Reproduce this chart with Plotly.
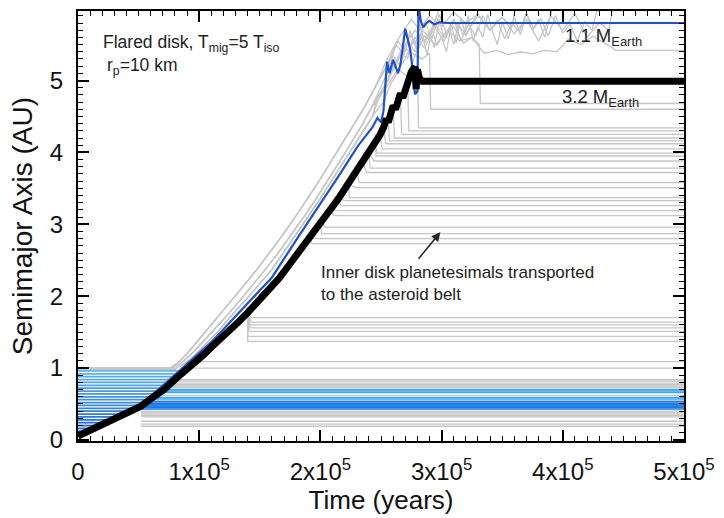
import plotly.graph_objects as go

T = 1e5  # time values below are in units of 1e5 years

# ---- planet tracks ----
black_t = [0, 0.16, 0.33, 0.52, 0.60, 0.71, 0.82, 0.93, 1.04, 1.10, 1.17, 1.25, 1.33, 1.40, 1.45,
           1.50, 1.58, 1.66, 1.74, 1.82, 1.91, 2.00, 2.08, 2.15, 2.23, 2.30, 2.35, 2.40, 2.45, 2.49,
           2.52, 2.545, 2.56, 2.60, 2.62, 2.66, 2.68, 2.72, 2.75, 2.78, 2.79, 2.80, 2.82, 2.84, 5.0]
black_a = [0.055, 0.19, 0.32, 0.47, 0.57, 0.70, 0.87, 1.02, 1.19, 1.29, 1.39, 1.52, 1.65, 1.77, 1.86,
           1.95, 2.10, 2.25, 2.43, 2.62, 2.82, 3.02, 3.20, 3.36, 3.56, 3.74, 3.87, 4.00, 4.13, 4.24,
           4.34, 4.47, 4.42, 4.65, 4.60, 4.82, 4.76, 4.96, 5.12, 5.19, 4.88, 5.15, 5.02, 4.99, 4.99]

blue_t = [0, 0.30, 0.52, 0.71, 0.93, 1.10, 1.25, 1.40, 1.60, 1.80, 2.00, 2.15, 2.31, 2.43, 2.47,
          2.50, 2.52, 2.55, 2.57, 2.60, 2.64, 2.66, 2.70, 2.74, 2.76, 2.78, 2.80, 2.81, 2.83, 2.85,
          2.87, 2.90, 2.94, 2.98, 3.05, 5.0]
blue_a = [0.07, 0.32, 0.50, 0.77, 1.10, 1.36, 1.63, 1.90, 2.26, 2.78, 3.28, 3.67, 4.09, 4.35, 4.48,
          4.42, 4.57, 5.26, 5.10, 5.29, 5.10, 5.22, 5.72, 5.44, 5.17, 4.81, 4.85, 6.05, 5.81, 5.74,
          5.79, 5.83, 5.78, 5.81, 5.80, 5.80]

# ---- shepherded grey band tracks ----
greyA_t = [0, 0.78, 0.86, 0.95, 1.05, 1.15, 1.25, 1.35, 1.45, 1.55, 1.65, 1.75, 1.85, 1.95, 2.05,
           2.15, 2.25, 2.35, 2.42]
greyA_a = [1.00, 1.00, 1.08, 1.22, 1.40, 1.58, 1.77, 1.97, 2.17, 2.38, 2.60, 2.83, 3.07, 3.32, 3.58,
           3.85, 4.12, 4.40, 4.62]
greyB_t = [0, 0.80, 0.93, 1.05, 1.15, 1.25, 1.40, 1.60, 1.80, 2.00, 2.15, 2.31, 2.43]
greyB_a = [0.985, 0.985, 1.12, 1.32, 1.50, 1.70, 1.98, 2.37, 2.86, 3.36, 3.76, 4.19, 4.50]
greyC_t = [0, 0.76, 0.83, 0.91, 1.00, 1.09, 1.18, 1.28, 1.38, 1.48, 1.58, 1.68, 1.78, 1.88, 1.98,
           2.08, 2.18, 2.28, 2.36]
greyC_a = [1.00, 1.00, 1.08, 1.22, 1.40, 1.58, 1.77, 1.97, 2.17, 2.38, 2.60, 2.83, 3.07, 3.32, 3.58,
           3.85, 4.12, 4.40, 4.62]

# chaotic outer continuations: (track used, times, semimajor axes)
chaos_track = ["A", "A", "B", "B", "C", "B", "C", "A", "C"]
chaos_t = [
    [2.48, 2.55, 2.60, 2.66, 2.72, 2.78, 2.84, 2.90, 2.95, 3.00],
    [2.48, 2.56, 2.62, 2.70, 2.78, 2.86, 2.95, 3.05, 3.15, 3.25, 3.35, 3.45, 3.55, 3.65, 3.75, 3.85,
     3.95, 4.05, 4.15, 4.25, 4.35, 4.44, 5.0],
    [2.45, 2.52, 2.58, 2.65, 2.72, 2.78, 2.84, 2.90, 2.91, 5.0],
    [2.48, 2.55, 2.62, 2.70, 2.78, 2.86, 2.94, 3.02, 3.10, 3.18, 3.25, 3.31, 3.32, 5.0],
    [2.45, 2.55, 2.65, 2.75, 2.82, 2.90, 3.00, 3.10, 3.20, 3.30, 3.40, 3.50, 3.60, 3.70, 3.80, 3.90,
     4.00, 4.10, 4.20, 4.30, 4.38, 4.42],
    [2.46, 2.54, 2.62, 2.70, 2.78, 2.86, 2.94, 3.02, 3.10, 3.20, 3.30, 3.40, 3.50, 3.58, 3.62],
    [2.42, 2.50, 2.58, 2.64, 2.70, 2.74, 2.78, 2.82, 2.86, 2.90, 2.94, 2.98, 3.02, 3.06, 3.10, 3.14,
     3.18, 3.22, 3.26, 3.30, 3.34, 3.38, 3.42, 3.46, 3.50, 3.55, 3.60, 3.65, 3.70, 3.75, 3.80, 3.85,
     3.90, 3.93],
    [2.46, 2.54, 2.60, 2.66, 2.72, 2.76, 2.80, 2.84, 2.88, 2.92, 2.96, 3.00, 3.04, 3.08, 3.12, 3.16,
     3.20, 3.25, 3.30, 3.35],
    [2.40, 2.48, 2.56, 2.62, 2.68, 2.74, 2.80, 2.86, 2.92, 2.98, 3.04, 3.10, 3.16, 3.22, 3.28, 3.34,
     3.40, 3.46, 3.52, 3.58, 3.64, 3.70, 3.76, 3.82, 3.88, 3.94, 4.00, 4.06, 4.12, 4.18, 4.24, 4.30],
]
chaos_a = [
    [4.85, 5.10, 5.35, 5.20, 5.55, 5.40, 5.70, 5.60, 5.85, 6.10],
    [4.80, 5.00, 5.25, 5.45, 5.35, 5.62, 5.50, 5.70, 5.55, 5.60, 5.38, 5.42, 5.36, 5.40, 5.37, 5.42,
     5.40, 5.58, 5.50, 5.62, 5.52, 5.42, 5.42],
    [4.55, 4.70, 4.95, 5.15, 5.05, 5.35, 5.30, 5.38, 4.60, 4.60],
    [4.75, 5.00, 5.20, 5.50, 5.70, 5.55, 5.80, 5.60, 5.75, 5.52, 5.60, 5.50, 4.68, 4.68],
    [4.90, 5.30, 5.60, 5.85, 5.70, 5.90, 5.75, 5.95, 5.80, 5.92, 5.70, 5.88, 5.65, 5.85, 5.55, 5.90,
     5.70, 5.93, 5.60, 5.80, 5.70, 6.10],
    [4.70, 4.90, 5.10, 5.30, 5.60, 5.45, 5.75, 5.55, 5.82, 5.65, 5.90, 5.70, 5.88, 5.75, 6.10],
    [4.80, 5.05, 5.30, 5.55, 5.40, 5.70, 5.48, 5.78, 5.52, 5.66, 5.45, 5.85, 5.60, 5.72, 5.50, 5.80,
     5.62, 5.90, 5.55, 5.75, 5.60, 5.92, 5.68, 5.50, 5.82, 5.58, 5.88, 5.64, 5.93, 5.70, 5.85, 5.60,
     5.90, 6.10],
    [4.70, 4.95, 5.20, 5.40, 5.30, 5.58, 5.42, 5.66, 5.35, 5.72, 5.48, 5.60, 5.40, 5.78, 5.52, 5.88,
     5.62, 5.80, 5.95, 6.10],
    [4.75, 5.00, 5.25, 5.50, 5.38, 5.64, 5.50, 5.82, 5.58, 5.92, 5.66, 5.86, 5.55, 5.78, 5.62, 5.90,
     5.70, 5.84, 5.58, 5.80, 5.68, 5.94, 5.72, 5.86, 5.62, 5.90, 5.66, 5.78, 5.55, 5.82, 5.70, 6.10],
]

# planetesimals scattered off the migrating planet: release time, final semimajor axis
scat_t = [1.02, 1.40, 1.40, 1.41, 1.42, 1.42, 1.43, 1.43,
          1.93, 1.97, 2.01, 2.04, 2.11, 2.14, 2.17, 2.21, 2.24, 2.29, 2.32, 2.38, 2.41,
          2.44, 2.46, 2.47, 2.51, 2.54, 2.57, 2.61, 2.67, 2.73, 2.81]
scat_a = [1.09, 1.37, 1.44, 1.51, 1.56, 1.60, 1.64, 1.70,
          2.73, 2.80, 2.87, 2.96, 3.12, 3.19, 3.26, 3.33, 3.37, 3.51, 3.58, 3.72, 3.78,
          3.88, 3.95, 3.99, 4.05, 4.12, 4.16, 4.20, 4.25, 4.30, 4.34]

# inner disk fan (initial a, time the planet sweeps it)
fan_a = [0.08, 0.12, 0.16, 0.20, 0.24, 0.28, 0.32, 0.36, 0.40, 0.44, 0.48, 0.52, 0.56, 0.60,
         0.64, 0.68, 0.72, 0.76, 0.80, 0.84, 0.88, 0.92, 0.96]
fan_t = [0.03, 0.077, 0.124, 0.173, 0.225, 0.277, 0.33, 0.38, 0.43, 0.48, 0.53, 0.56, 0.59, 0.62,
         0.655, 0.69, 0.72, 0.75, 0.775, 0.80, 0.827, 0.857, 0.886]

# inner survivors (a, start time)
low_grey_a = [0.19, 0.22, 0.26, 0.32, 0.34, 0.36, 0.38, 0.40, 0.55, 0.62, 0.73, 0.75, 0.77, 0.79,
              0.82, 0.84, 1.00]
low_grey_t = [0.52, 0.52, 0.52, 0.52, 0.52, 0.52, 0.52, 0.52, 0.58, 0.64, 0.73, 0.745, 0.76, 0.775,
              0.79, 0.80, 0.92]
low_lblue_a = [0.57, 0.59, 0.66, 0.68, 0.70]
low_lblue_t = [0.60, 0.62, 0.67, 0.69, 0.71]
low_blue_a = [0.43, 0.45, 0.47, 0.49, 0.51, 0.53]
low_blue_t = [0.52, 0.52, 0.52, 0.53, 0.55, 0.57]

T_END = 5.0
x_ticks = [0, 1, 2, 3, 4, 5]
x_ticktext = ["0", "1x10<sup>5</sup>", "2x10<sup>5</sup>", "3x10<sup>5</sup>", "4x10<sup>5</sup>", "5x10<sup>5</sup>"]
y_ticks = [0, 1, 2, 3, 4, 5]

GREY = "#c6c6c6"


def join(lines):
    xs, ys = [], []
    for lx, ly in lines:
        xs += [v * T for v in lx] + [None]
        ys += list(ly) + [None]
    return xs, ys


fig = go.Figure()

# grey lines
grey_lines = []
tracks = {"A": (greyA_t, greyA_a), "B": (greyB_t, greyB_a), "C": (greyC_t, greyC_a)}
for key, ct, ca in zip(chaos_track, chaos_t, chaos_a):
    tt, ta = tracks[key]
    grey_lines.append((list(tt) + ct, list(ta) + ca))
for tr, af in zip(scat_t, scat_a):
    px = [t for t in black_t if t <= tr]
    py = [a for t, a in zip(black_t, black_a) if t <= tr]
    grey_lines.append((px + [tr, T_END], py + [af, af]))
for a, t0 in zip(low_grey_a, low_grey_t):
    grey_lines.append(([t0, T_END], [a, a]))
gx, gy = join(grey_lines)
fig.add_trace(go.Scatter(x=gx, y=gy, mode="lines", line=dict(color=GREY, width=1.3),
                         hoverinfo="skip", showlegend=False))

# inner fan lines (blue gradient)
c0 = (26, 100, 205)
c1 = (95, 180, 240)
n = len(fan_a)
for i, (a, te) in enumerate(zip(fan_a, fan_t)):
    f = i / (n - 1)
    col = "rgb(%d,%d,%d)" % tuple(int(c0[k] + (c1[k] - c0[k]) * f) for k in range(3))
    fig.add_trace(go.Scatter(x=[0, te * T], y=[a, a], mode="lines", line=dict(color=col, width=1.8),
                             hoverinfo="skip", showlegend=False))

lbx, lby = join([([t0, T_END], [a, a]) for a, t0 in zip(low_lblue_a, low_lblue_t)])
fig.add_trace(go.Scatter(x=lbx, y=lby, mode="lines", line=dict(color="#3ea6ef", width=1.6),
                         hoverinfo="skip", showlegend=False))
bx, by = join([([t0, T_END], [a, a]) for a, t0 in zip(low_blue_a, low_blue_t)])
fig.add_trace(go.Scatter(x=bx, y=by, mode="lines", line=dict(color="#1b7de2", width=1.6),
                         hoverinfo="skip", showlegend=False))

# planets
fig.add_trace(go.Scatter(x=[t * T for t in blue_t], y=blue_a, mode="lines",
                         line=dict(color="#1f52c8", width=2.2), hoverinfo="skip", showlegend=False))
fig.add_trace(go.Scatter(x=[t * T for t in black_t], y=black_a, mode="lines",
                         line=dict(color="black", width=7), hoverinfo="skip", showlegend=False))

FONT = "Liberation Sans, Arial, Helvetica, sans-serif"
ann_font = dict(family=FONT, size=17.5, color="#222")
fig.add_annotation(x=0.19 * T, y=5.51, text="Flared disk, T<sub>mig</sub>=5 T<sub>iso</sub>",
                   showarrow=False, xanchor="left", yanchor="middle", font=ann_font)
fig.add_annotation(x=0.22 * T, y=5.19, text="r<sub>p</sub>=10 km",
                   showarrow=False, xanchor="left", yanchor="middle", font=ann_font)
fig.add_annotation(x=4.0 * T, y=5.60, text="1.1 M<sub>Earth</sub>",
                   showarrow=False, xanchor="left", yanchor="middle", font=dict(family=FONT, size=18.5, color="#222"))
fig.add_annotation(x=3.98 * T, y=4.75, text="3.2 M<sub>Earth</sub>",
                   showarrow=False, xanchor="left", yanchor="middle", font=dict(family=FONT, size=18.5, color="#222"))
fig.add_annotation(x=1.99 * T, y=2.18,
                   text="Inner disk planetesimals transported<br>to the asteroid belt",
                   showarrow=False, xanchor="left", yanchor="middle", align="left",
                   font=dict(family=FONT, size=17, color="#222"))
fig.add_annotation(x=2.99 * T, y=2.89, ax=2.80 * T, ay=2.50, axref="x", ayref="y", xref="x", yref="y",
                   text="", showarrow=True, arrowhead=2, arrowsize=1.2, arrowwidth=1.5, arrowcolor="#222")
# y-axis title placed precisely
fig.add_annotation(x=-0.092, y=0.50, xref="paper", yref="paper", text="Semimajor Axis (AU)",
                   textangle=-90, showarrow=False, xanchor="center", yanchor="middle",
                   font=dict(family=FONT, size=28, color="#111"))

axis_common = dict(showline=True, linecolor="black", linewidth=2, mirror="allticks",
                   ticks="inside", ticklen=11, tickwidth=1.5, tickcolor="black",
                   showgrid=False, zeroline=False,
                   tickfont=dict(family=FONT, size=24, color="#111"))

fig.update_xaxes(range=[0, 5e5], tickvals=[v * T for v in x_ticks], ticktext=x_ticktext,
                 minor=dict(ticks="inside", ticklen=5, tickwidth=1, tickcolor="black", dtick=1e4),
                 ticklabelstandoff=8,
                 title=dict(text="Time (years)", font=dict(family=FONT, size=26, color="#111"), standoff=6),
                 **axis_common)
fig.update_yaxes(range=[-0.015, 5.967], tickvals=y_ticks, ticktext=[str(v) for v in y_ticks],
                 minor=dict(ticks="inside", ticklen=5, tickwidth=1, tickcolor="black", dtick=0.1),
                 ticklabelstandoff=8,
                 **axis_common)

fig.update_layout(width=724, height=518, margin=dict(l=78, r=36, t=9, b=76),
                  plot_bgcolor="white", paper_bgcolor="white")

fig.write_html("out.html")
